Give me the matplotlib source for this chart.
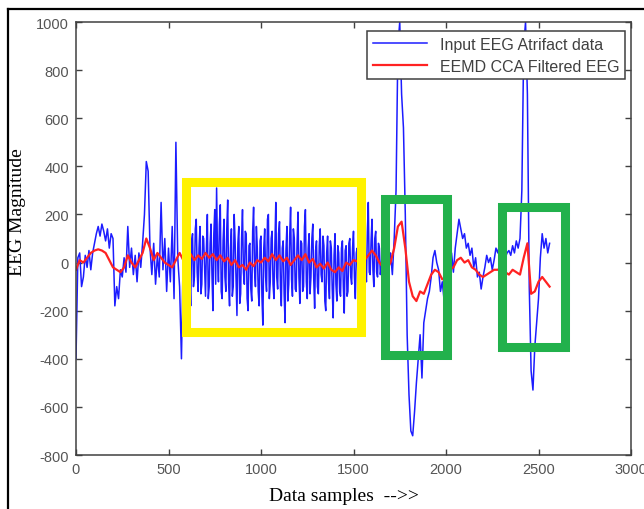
import numpy as np
import matplotlib.pyplot as plt
from matplotlib.patches import Rectangle
from matplotlib.lines import Line2D

plt.rcParams["axes.unicode_minus"] = False

# input EEG with artifacts: samples 0-590, every 10 samples
blue_a = [
    -400, 20, 40, -100, -60, 30, -20, 50, -30, 40,
    80, 120, 150, 110, 160, 130, 90, 140, 60, 120,
    100, -180, -100, -150, -30, -60, 20, -40, 150, -20,
    60, -50, 30, -80, 40, -20, 80, 200, 420, 380,
    60, -50, 80, -90, 30, -60, 250, -30, 100, -120,
    60, -80, 150, -150, 500, 20, -100, -400, 60, 200,
]
# samples 600-1695, every 5 samples (dense noisy stretch)
blue_b = [
    -160, 40, 230, -60, -180, 90, 120, -100, -60, 140, 180, -40, -120, 60, 150, -130, -90, 110, 100, -20,
    -140, 60, 200, -150, -100, 80, 160, -50, -200, 120, 220, -90, 310, 30, -80, 160, 240, -120, -150, 90,
    180, -60, -120, 140, 260, -90, -180, 60, 140, -140, -100, 200, 90, -60, -220, 80, 150, -170, -130, 100,
    220, -40, -90, 130, 120, -150, -200, 70, 80, -110, -160, 130, 230, -30, -100, 150, 60, -120, -180, 90,
    110, -140, -260, 60, 140, -60, -120, 180, 200, -150, -80, 100, 130, -90, -150, 70, 250, -60, -110, 120,
    170, -100, -180, 60, 90, -130, -250, 50, 150, -160, -90, 110, 230, -70, -140, 140, 100, -110, -120, 80,
    210, -60, -170, 90, 80, -120, -100, 150, 220, -80, -150, 60, 120, -130, -60, 100, 160, -70, -190, 50,
    90, -100, -130, 70, 140, -50, -80, 110, 70, -160, -200, 40, 110, -80, -150, 90, 60, -110, -230, 30,
    120, -90, -160, 70, 40, -120, -140, 60, 90, -100, -210, 50, 70, -140, -120, 80, 100, -60, -90, 60,
    130, -60, -150, 40, 60, -100, -80, 90, 110, -40, -60, 120, 150, -30, -80, 130, 250, -40, -50, 90,
    180, -30, -100, 100, 130, -40, -60, 80, 60, -50, -20, 40, 50, -70, -80, 60, 100, -30, -60, 20,
]
# samples 1700-2560, every 10 samples
blue_c = [
    40, -50, 100, 300, 900, 1000, 700, 560, 200, -300,
    -550, -700, -720, -620, -500, -400, -300, -480, -250, -200,
    -150, -120, -60, 20, 50, 0, -30, -120, -80, -160,
    -50, 20, -30, 40, -40, 60, 120, 180, 140, 100,
    120, 60, 80, 30, 60, -20, 20, -60, -40, -110,
    -60, -20, 30, 0, 20, -30, 10, 60, 40, 80,
    30, 60, 20, 40, 50, 30, 70, 40, 90, 60,
    100, 300, 900, 1000, 700, -100, -450, -530, -350, -250,
    -150, 20, 120, 60, 100, 40, 80,
]

# EEMD CCA filtered output, one value every 20 samples
red_step = 20
red_vals = [
    -30, 10, 0, 20, 40, 50, 55, 50, 40, 10,
    -20, -30, -40, -20, 30, 0, -20, 10, 40, 100,
    60, 10, 40, 20, 0, -10, -20, 10, 40, 10,
    20, 35, 10, 30, 15, 40, 20, 35, 10, 30,
    5, 20, -10, 10, -20, -10, -30, 0, -15, 10,
    0, 20, 5, 35, 10, 30, 5, 20, -10, 10,
    30, 10, 35, 0, 15, -20, -5, -25, 0, -30,
    -40, -20, -35, 0, -10, 10, 5, 20, 10, 30,
    50, 30, 0, -20, -30, 0, 60, 150, 170, 60,
    -80, -140, -160, -120, -130, -90, -50, -30, -40, -70,
    -60, -30, -20, 10, 20, 0, 10, -20, -30, -50,
    -60, -50, -40, -30, -30, -20, -40, -50, -30, -40,
    -50, 20, 80, -130, -120, -80, -60, -80, -100,
]

labels = ["Input EEG Atrifact data", "EEMD CCA Filtered EEG"]
x_ticks = [0, 500, 1000, 1500, 2000, 2500, 3000]
y_ticks = [-800, -600, -400, -200, 0, 200, 400, 600, 800, 1000]

blue_x = np.concatenate([np.arange(0, 600, 10), np.arange(600, 1700, 5),
                         np.arange(1700, 2570, 10)])
blue_y = blue_a + blue_b + blue_c
red_x = np.arange(len(red_vals)) * red_step

W, H = 644, 510
fig = plt.figure(figsize=(W / 100, H / 100), dpi=100)
ax = fig.add_axes([76 / W, 54 / H, 555 / W, 433 / H])

ax.plot(blue_x, blue_y, color="#1c1cff", lw=1.1, label=labels[0], zorder=2)
ax.plot(red_x, red_vals, color="#ff2222", lw=1.6, label=labels[1], zorder=2.5)

ax.set_xlim(0, 3000)
ax.set_ylim(-800, 1000)
ax.set_xticks(x_ticks)
ax.set_yticks(y_ticks)
ax.tick_params(direction="in", top=True, right=True, length=4, width=1,
               color="#404040", labelcolor="#555555", labelsize=10.5, pad=5)
for lab in ax.get_xticklabels() + ax.get_yticklabels():
    lab.set_family("Liberation Sans")
for sp in ax.spines.values():
    sp.set_color("#404040")
    sp.set_linewidth(1.1)

# highlight boxes drawn over the plot
boxes = [
    ((592, -287), 949, 621, "#fff200"),
    ((1670, -383), 338, 646, "#22b14c"),
    ((2303, -353), 338, 583, "#22b14c"),
]
for (x0, y0), w, h, c in boxes:
    ax.add_patch(Rectangle((x0, y0), w, h, fill=False, edgecolor=c, lw=6.5,
                           joinstyle="miter", clip_on=False, zorder=3))

leg = ax.legend(loc="upper right", bbox_to_anchor=(0.989, 0.979), borderaxespad=0,
                fancybox=False, framealpha=1, edgecolor="#404040",
                prop={"family": "Liberation Sans", "size": 11.5},
                handlelength=3.4, labelspacing=0.45, borderpad=0.35, handletextpad=0.8)
leg.set_zorder(5)
leg.get_frame().set_linewidth(1.1)
for t in leg.get_texts():
    t.set_color("#404040")

fig.text(18 / W, 1 - 212 / H, "EEG Magnitude", rotation=90, ha="center", va="center",
         family="Liberation Serif", fontsize=14)
fig.text(344 / W, 1 - 497 / H, "Data samples  -->>", ha="center", va="center",
         family="Liberation Serif", fontsize=14)

# outer frame of the screenshot
fig.add_artist(Line2D([8 / W, 8 / W], [0, 1 - 10 / H], color="black", lw=1.6))
fig.add_artist(Line2D([8 / W, 1], [1 - 10 / H, 1 - 10 / H], color="black", lw=1.6))

fig.savefig("out.png", dpi=100)
